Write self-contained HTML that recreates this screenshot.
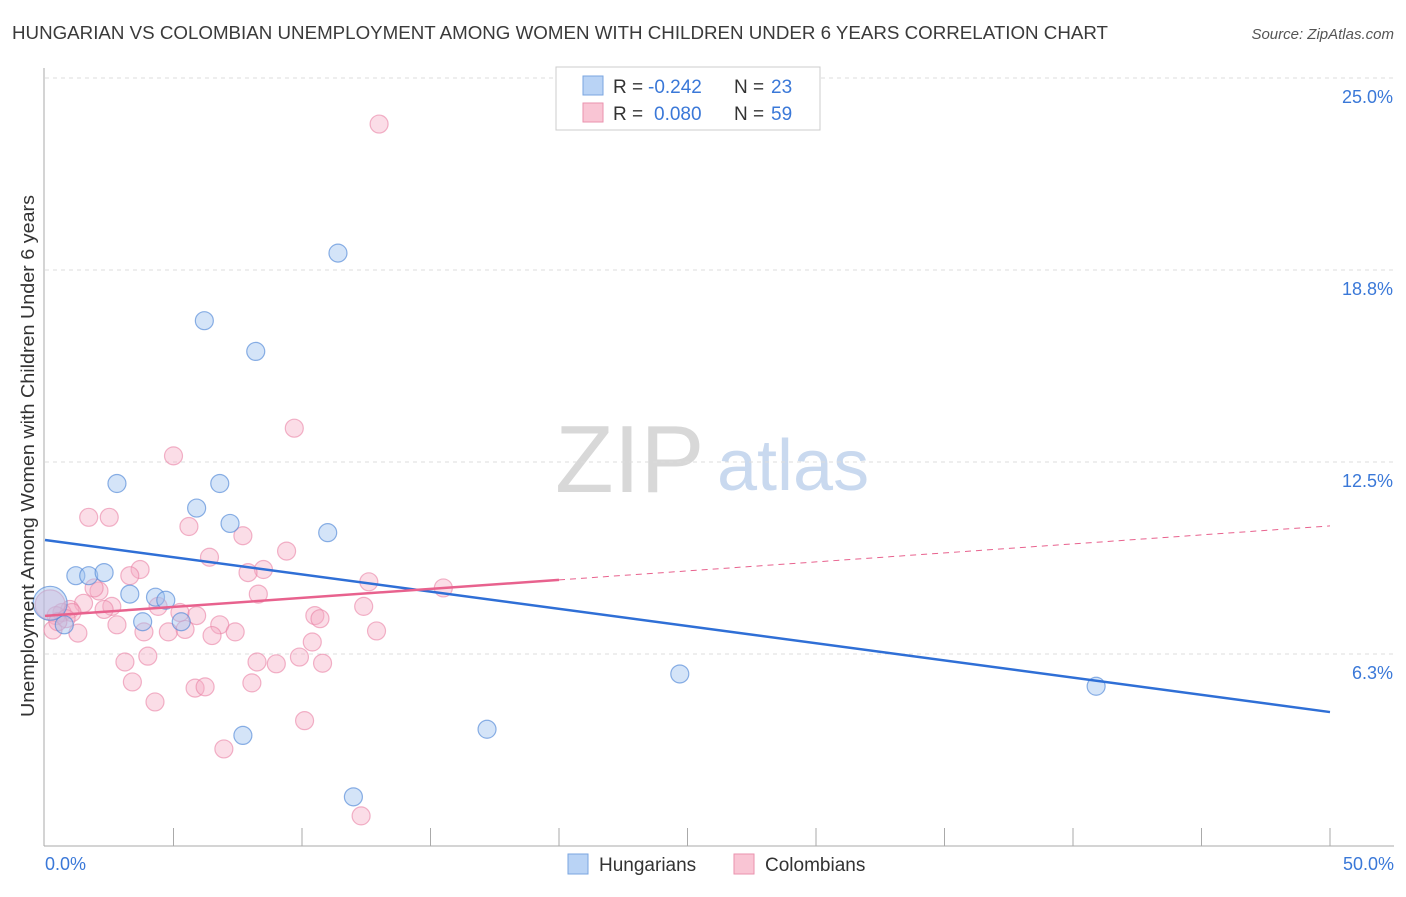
<!DOCTYPE html>
<html><head><meta charset="utf-8"><style>
body{margin:0;background:#fff;font-family:"Liberation Sans",sans-serif;}
svg text{font-family:"Liberation Sans",sans-serif;}
</style></head><body>
<svg id="chart" width="1406" height="892" viewBox="0 0 1406 892">
<text x="12" y="39" font-size="18" fill="#3a3a3a" textLength="1096" lengthAdjust="spacingAndGlyphs">HUNGARIAN VS COLOMBIAN UNEMPLOYMENT AMONG WOMEN WITH CHILDREN UNDER 6 YEARS CORRELATION CHART</text>
<text x="1394" y="39" font-size="15" fill="#555" text-anchor="end" font-style="italic">Source: ZipAtlas.com</text>
<g>
<text x="555" y="492" font-size="96" fill="#d8d8d8" font-family="Liberation Serif,serif">ZIP</text>
<text x="717" y="490" font-size="72" fill="#c9d9ef">atlas</text>
</g>
<g id="grid"></g>
<g id="axes"></g>
<g id="marks"></g>
<g>
<rect x="556" y="67" width="264" height="63" fill="#fff" stroke="#ccc"/>
<rect x="583" y="76" width="20" height="19" fill="#b9d3f5" stroke="#7aa6e0"/>
<rect x="583" y="103" width="20" height="19" fill="#f9c5d4" stroke="#ea92ae"/>
<text x="613" y="93" font-size="19" fill="#333">R =</text>
<text x="648" y="93" font-size="19" fill="#3a78d8">-0.242</text>
<text x="734" y="93" font-size="19" fill="#333">N =</text>
<text x="771" y="93" font-size="19" fill="#3a78d8">23</text>
<text x="613" y="120" font-size="19" fill="#333">R =</text>
<text x="654" y="120" font-size="19" fill="#3a78d8">0.080</text>
<text x="734" y="120" font-size="19" fill="#333">N =</text>
<text x="771" y="120" font-size="19" fill="#3a78d8">59</text>
</g>
<g>
<rect x="568" y="854" width="20" height="20" fill="#b9d3f5" stroke="#7aa6e0"/>
<text x="599" y="871" font-size="19" fill="#333">Hungarians</text>
<rect x="734" y="854" width="20" height="20" fill="#f9c5d4" stroke="#ea92ae"/>
<text x="765" y="871" font-size="19" fill="#333">Colombians</text>
</g>
<text transform="translate(34,456) rotate(-90)" font-size="18" fill="#333" text-anchor="middle" textLength="522" lengthAdjust="spacingAndGlyphs">Unemployment Among Women with Children Under 6 years</text>
</svg>
<script>
const yTicks=[6.25,12.5,18.75,25];
const yTickLabels=["6.3%","12.5%","18.8%","25.0%"];
const xTickLabels=["0.0%","50.0%"];
const hungX=[11.4,6.2,8.2,2.8,6.8,5.9,7.2,11.0,1.2,1.7,2.3,3.3,4.3,4.7,3.8,5.3,0.75,0.2,7.7,12.0,17.2,24.7,40.9];
const hungY=[19.3,17.1,16.1,11.8,11.8,11.0,10.5,10.2,8.8,8.8,8.9,8.2,8.1,8.0,7.3,7.3,7.2,7.9,3.6,1.6,3.8,5.6,5.2];
const colX=[13.0,9.7,5.0,1.7,2.5,5.6,7.7,6.4,9.4,8.5,3.7,3.3,7.9,2.1,12.6,15.5,8.3,1.5,2.6,4.4,2.3,12.4,0.97,0.66,0.43,5.9,5.25,10.5,10.7,1.05,2.8,6.8,3.85,4.8,5.45,6.5,7.4,1.28,0.31,12.9,10.4,4.0,3.11,8.25,9.0,9.9,10.8,3.4,8.05,5.84,6.23,4.28,10.1,6.96,12.3,0.2,0.82,1.91,0.5];
const colY=[23.5,13.6,12.7,10.7,10.7,10.4,10.1,9.4,9.6,9.0,9.0,8.8,8.9,8.3,8.6,8.4,8.2,7.9,7.8,7.8,7.7,7.8,7.7,7.6,7.5,7.5,7.6,7.5,7.4,7.6,7.2,7.2,6.97,6.97,7.05,6.85,6.97,6.93,7.03,7.0,6.64,6.18,5.99,5.99,5.93,6.15,5.95,5.34,5.31,5.14,5.18,4.69,4.08,3.16,0.98,7.85,7.4,8.4,7.3];
const hungTrend=[9.96,4.36];
const colTrend=[7.49,10.42];
const X=v=>45+v/50*1285, Y=v=>846-v*30.72;
const NS="http://www.w3.org/2000/svg";
function mk(tag,attrs,parent){const e=document.createElementNS(NS,tag);for(const k in attrs)e.setAttribute(k,attrs[k]);document.getElementById(parent).appendChild(e);return e;}
yTicks.forEach((t,i)=>{
 const g=mk('line',{x1:45,x2:1394,y1:Y(t),y2:Y(t),stroke:'#ddd','stroke-dasharray':'4,4'},'grid');
 
 
 const l=mk('text',{x:1393,y:Y(t)+25,'font-size':18,fill:'#3a78d8','text-anchor':'end'},'axes');
 l.textContent=yTickLabels[i];
 
 
});
const ax=mk('line',{x1:44,x2:44,y1:68,y2:846,stroke:'#aaa'},'axes');


const bx=mk('line',{x1:44,x2:1394,y1:846,y2:846,stroke:'#aaa'},'axes');


for(let i=1;i<=10;i++){const tk=mk('line',{x1:X(i*5),x2:X(i*5),y1:828,y2:846,stroke:'#aaa'},'axes');
 
 }
xTickLabels.forEach((s,i)=>{const t=mk('text',{x:i?1394:45,y:870,'font-size':18,fill:'#3a78d8','text-anchor':i?'end':'start'},'axes');t.textContent=s;
 
 });
colX.forEach((x,i)=>{const r=i===55?15:9;const c=mk('circle',{cx:X(x),cy:Y(colY[i]),r:r,fill:'rgba(246,170,195,0.4)',stroke:'rgba(234,130,165,0.6)','stroke-width':1.2},'marks');
 
 });
hungX.forEach((x,i)=>{const r=i===17?17:9;const c=mk('circle',{cx:X(x),cy:Y(hungY[i]),r:r,fill:'rgba(160,196,240,0.45)',stroke:'rgba(80,135,215,0.65)','stroke-width':1.2},'marks');
 
 });
const hl=mk('line',{x1:X(0),y1:Y(hungTrend[0]),x2:X(50),y2:Y(hungTrend[1]),stroke:'#2f6fd6','stroke-width':2.5},'marks');


const cAt=v=>colTrend[0]+(colTrend[1]-colTrend[0])*v/50;
const cl=mk('line',{x1:X(0),y1:Y(colTrend[0]),x2:X(20),y2:Y(cAt(20)),stroke:'#e8628e','stroke-width':2.5},'marks');


const cd=mk('line',{x1:X(20),y1:Y(cAt(20)),x2:X(50),y2:Y(colTrend[1]),stroke:'#e8628e','stroke-width':1,'stroke-dasharray':'6,5'},'marks');


</script>
</body></html>
